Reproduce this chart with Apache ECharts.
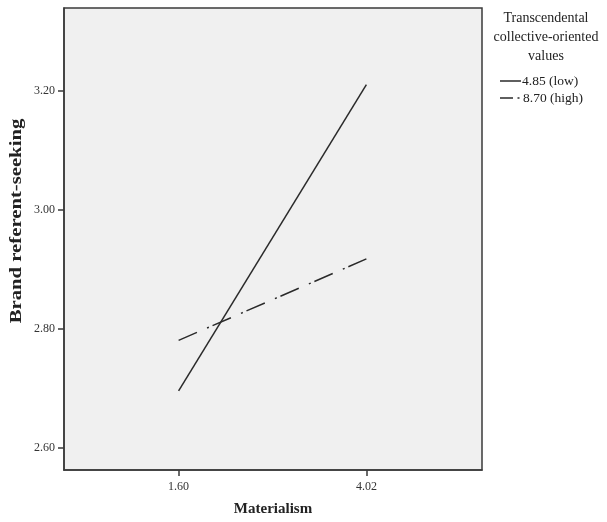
<!DOCTYPE html>
<html>
<head>
<meta charset="utf-8">
<script src="https://cdn.jsdelivr.net/npm/echarts@6/dist/echarts.min.js"></script>
<style>html,body{margin:0;padding:0;background:#fff}#c{width:607px;height:522px}</style>
</head>
<body>
<div id="c"></div>
<script>
// Data
const xPoints = [1.60, 4.02];
const xTickValues = [1.60, 4.02];
const yTickValues = [2.60, 2.80, 3.00, 3.20];
const seriesNames = ['4.85 (low)', '8.70 (high)'];
const lowValues = [2.695, 3.210];
const highValues = [2.780, 2.917];
const legendTitle = 'Transcendental\ncollective-oriented\nvalues';
const xAxisName = 'Materialism';
const yAxisName = 'Brand referent-seeking';

const FONT = '"Liberation Serif", "DejaVu Serif", serif';
const LINE = '#2a2a2a';
const chart = echarts.init(document.getElementById('c'), null, {renderer: 'canvas'});

function pairs(vals) { return xPoints.map((x, i) => [x, vals[i]]); }

chart.setOption({
  backgroundColor: '#fff',
  animation: false,
  grid: {left: 64, top: 8, right: 125, bottom: 52, show: true, backgroundColor: '#f0f0f0', borderColor: '#3a3a3a', borderWidth: 1.5},
  xAxis: {
    type: 'value', min: 0.123, max: 5.51,
    name: xAxisName, nameLocation: 'middle', nameGap: 32,
    nameTextStyle: {fontFamily: FONT, fontSize: 15, fontWeight: 'bold', color: '#222'},
    axisLine: {show: true, onZero: false, lineStyle: {color: '#3a3a3a', width: 1.5}},
    axisTick: {show: true, length: 6, customValues: xTickValues, lineStyle: {color: '#3a3a3a', width: 1.5}},
    axisLabel: {customValues: xTickValues, formatter: v => v.toFixed(2), fontFamily: FONT, fontSize: 12, color: '#333', margin: 11},
    splitLine: {show: false}
  },
  yAxis: {
    type: 'value', min: 2.562, max: 3.339,
    axisLine: {show: true, onZero: false, lineStyle: {color: '#3a3a3a', width: 1.5}},
    axisTick: {show: true, length: 6, customValues: yTickValues, lineStyle: {color: '#3a3a3a', width: 1.5}},
    axisLabel: {customValues: yTickValues, formatter: v => v.toFixed(2), fontFamily: FONT, fontSize: 12, color: '#333', margin: 9},
    splitLine: {show: false}
  },
  graphic: [
    {type: 'text', x: 546, y: 9, style: {text: legendTitle, textAlign: 'center', fontFamily: FONT, fontSize: 14, lineHeight: 19, fill: '#222'}},
    {type: 'text', x: 17, y: 221, rotation: Math.PI / 2, scaleX: 1.38, scaleY: 1.05, style: {text: yAxisName, textAlign: 'center', textVerticalAlign: 'middle', fontFamily: FONT, fontSize: 15, fontWeight: 'bold', fill: '#222'}},
    // legend samples
    {type: 'line', shape: {x1: 500, y1: 81, x2: 521, y2: 81}, style: {stroke: LINE, lineWidth: 1.5}},
    {type: 'text', x: 522, y: 81, style: {text: seriesNames[0], textVerticalAlign: 'middle', fontFamily: FONT, fontSize: 13.5, fill: '#222'}},
    {type: 'line', shape: {x1: 500, y1: 98, x2: 513, y2: 98}, style: {stroke: LINE, lineWidth: 1.5}},
    {type: 'line', shape: {x1: 517.5, y1: 98, x2: 519.5, y2: 98}, style: {stroke: LINE, lineWidth: 1.5}},
    {type: 'text', x: 523, y: 98, style: {text: seriesNames[1], textVerticalAlign: 'middle', fontFamily: FONT, fontSize: 13.5, fill: '#222'}}
  ],
  series: [
    {name: seriesNames[0], type: 'line', data: pairs(lowValues), symbol: 'none', lineStyle: {color: LINE, width: 1.5, type: 'solid'}},
    {name: seriesNames[1], type: 'line', data: pairs(highValues), symbol: 'none', lineStyle: {color: LINE, width: 1.5, type: [20, 11, 2, 4]}}
  ]
});
</script>
</body>
</html>
